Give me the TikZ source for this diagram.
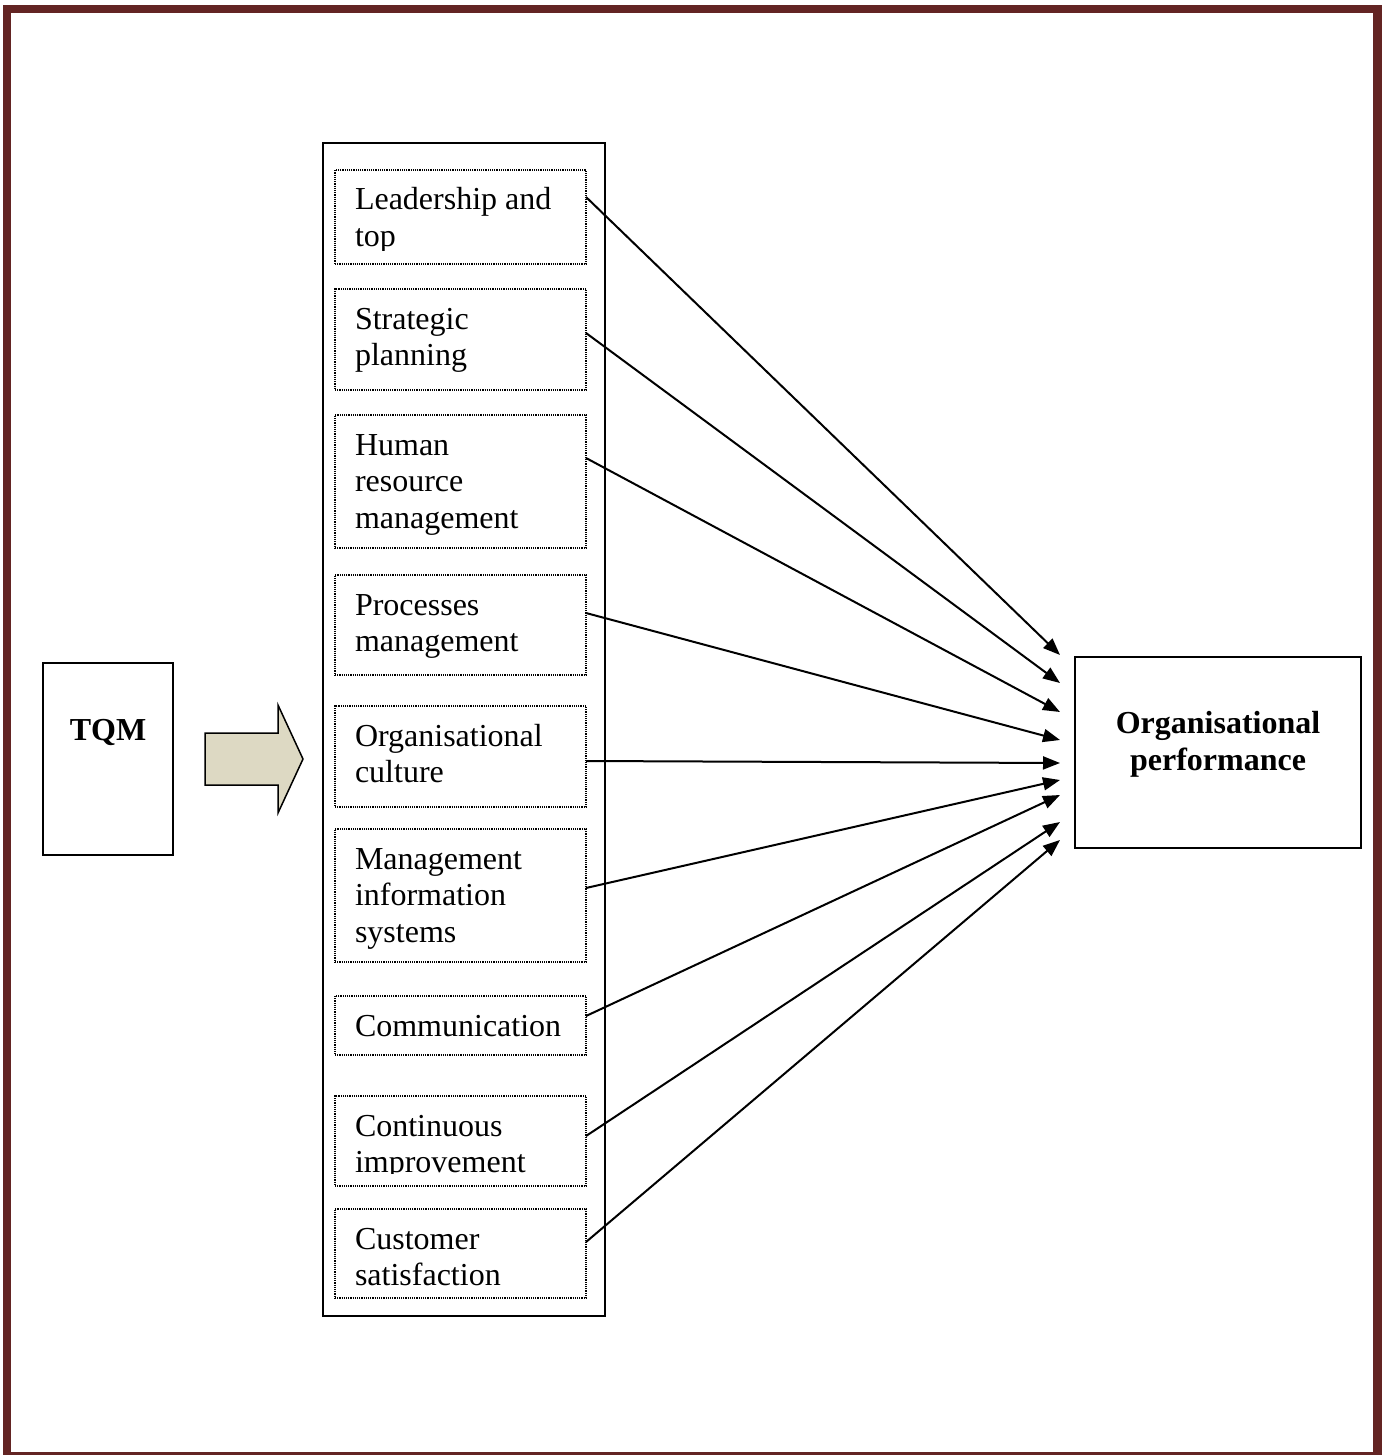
\documentclass[tikz,border=0pt]{standalone}
\usepackage{fontspec}
\setmainfont{Liberation Serif}
\usetikzlibrary{arrows.meta,calc}
\definecolor{frame}{HTML}{632423}
\definecolor{tan}{HTML}{DDD9C3}
\begin{document}
\begin{tikzpicture}[x=1pt,y=-1pt,
  every node/.style={inner sep=0pt,outer sep=0pt},
  dotbox/.style={draw,rectangle,line width=2pt,dash pattern=on 1.2pt off 1pt,fill=white,minimum width=251pt},
  solidbox/.style={draw,rectangle,line width=2pt},
  lbl/.style={anchor=base west,font=\fontsize{32}{36.5}\selectfont},
  blbl/.style={anchor=base,font=\fontsize{32}{37}\selectfont\bfseries},
  link/.style={line width=2pt,-{Triangle[length=17pt,width=13pt]}}]
\clip (0,0) rectangle (1385,1455);
% page frame
\draw[frame,line width=8.5pt] (7,9) rectangle (1377.5,1456.5);
% TQM box
\node[solidbox,minimum width=130pt,minimum height=192pt] (tqm) at (108,759) {};
\node[blbl] (tqmt) at (108,740) {TQM};
% block arrow
\draw[line width=1.5pt,fill=tan,line join=miter] (205,733) -- (278,733) -- (278,705) -- (303,759) -- (278,813) -- (278,785) -- (205,785) -- cycle;
% container
\node[solidbox,minimum width=282pt,minimum height=1173pt] (col) at (464,729.5) {};
% dotted boxes
\node[dotbox,minimum height=94pt] (b1) at (460.5,217) {};
\node[dotbox,minimum height=101pt] (b2) at (460.5,339.5) {};
\node[dotbox,minimum height=133pt] (b3) at (460.5,481.5) {};
\node[dotbox,minimum height=100pt] (b4) at (460.5,625) {};
\node[dotbox,minimum height=101pt] (b5) at (460.5,756.5) {};
\node[dotbox,minimum height=133pt] (b6) at (460.5,895.5) {};
\node[dotbox,minimum height=59pt] (b7) at (460.5,1025.5) {};
\node[dotbox,minimum height=90pt] (b8) at (460.5,1141) {};
\node[dotbox,minimum height=89pt] (b9) at (460.5,1253.5) {};
% texts
\begin{scope}
\clip (336,171) rectangle (585,251);
\node[lbl] (t1a) at (355,210) {Leadership and};
\node[lbl] (t1b) at (355,246.5) {top};
\end{scope}
\node[lbl] (t2a) at (355,329) {Strategic};
\node[lbl] (t2b) at (355,365.5) {planning};
\node[lbl] (t3a) at (355,455) {Human};
\node[lbl] (t3b) at (355,491.5) {resource};
\node[lbl] (t3c) at (355,528) {management};
\node[lbl] (t4a) at (355,615) {Processes};
\node[lbl] (t4b) at (355,651.5) {management};
\node[lbl] (t5a) at (355,746) {Organisational};
\node[lbl] (t5b) at (355,782.5) {culture};
\node[lbl] (t6a) at (355,869) {Management};
\node[lbl] (t6b) at (355,905.5) {information};
\node[lbl] (t6c) at (355,942) {systems};
\node[lbl] (t7a) at (355,1036) {Communication};
\begin{scope}
\clip (336,1097) rectangle (585,1173);
\node[lbl] (t8a) at (355,1136) {Continuous};
\node[lbl] (t8b) at (355,1172.5) {improvement};
\end{scope}
\node[lbl] (t9a) at (355,1249) {Customer};
\node[lbl] (t9b) at (355,1285.5) {satisfaction};
% outcome box
\node[solidbox,line width=2.5pt,minimum width=286pt,minimum height=191pt] (op) at (1218,752.5) {};
\node[blbl] (opa) at (1218,733) {Organisational};
\node[blbl] (opb) at (1218,770) {performance};
% connectors
\draw[link] ($(b1.east)+(0,-20)$) -- ($(op.west)+(-15,-97.5)$);
\draw[link] ($(b2.east)+(0,-6.5)$) -- ($(op.west)+(-15,-69.5)$);
\draw[link] ($(b3.east)+(0,-23.5)$) -- ($(op.west)+(-15,-40.5)$);
\draw[link] ($(b4.east)+(0,-12)$) -- ($(op.west)+(-15,-12.5)$);
\draw[link] ($(b5.east)+(0,4.5)$) -- ($(op.west)+(-15,10.5)$);
\draw[link] ($(b6.east)+(0,-7.5)$) -- ($(op.west)+(-15,27.5)$);
\draw[link] ($(b7.east)+(0,-9.5)$) -- ($(op.west)+(-15,42.5)$);
\draw[link] ($(b8.east)+(0,-5)$) -- ($(op.west)+(-15,69.5)$);
\draw[link] ($(b9.east)+(0,-11.5)$) -- ($(op.west)+(-15,87.5)$);
\end{tikzpicture}
\end{document}
